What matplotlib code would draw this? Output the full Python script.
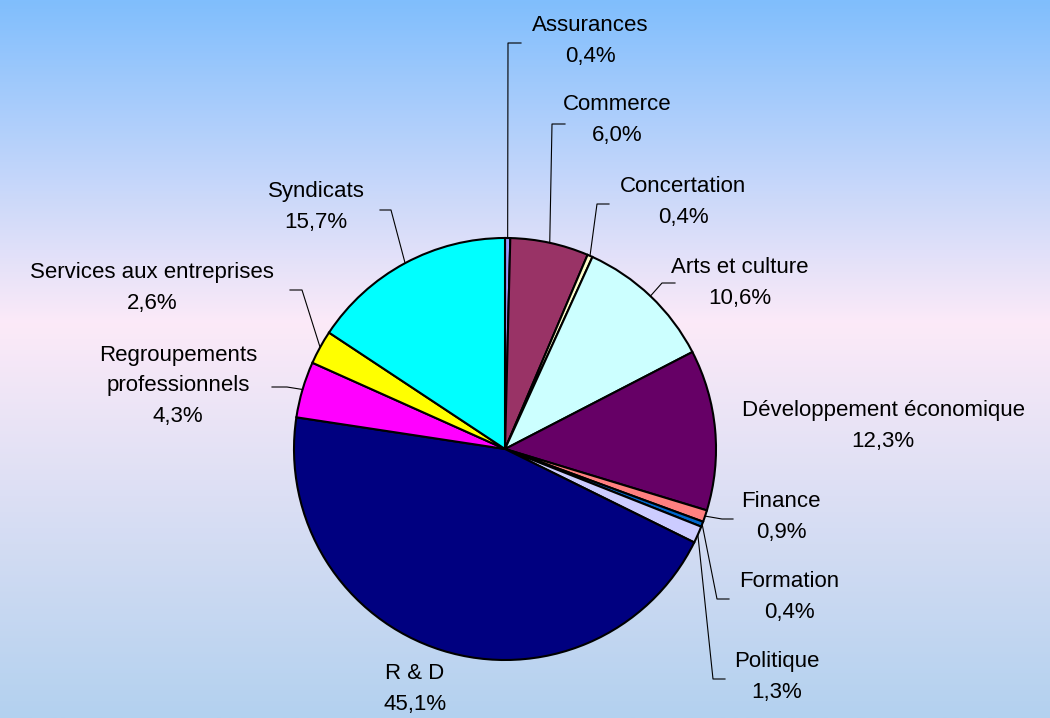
import numpy as np
import matplotlib.pyplot as plt
from matplotlib.colors import LinearSegmentedColormap

# Data #
labels = ["Assurances", "Commerce", "Concertation", "Arts et culture",
          "Développement économique", "Finance", "Formation", "Politique",
          "R & D", "Regroupements\nprofessionnels", "Services aux entreprises",
          "Syndicats"]
values = [0.4, 6.0, 0.4, 10.6, 12.3, 0.9, 0.4, 1.3, 45.1, 4.3, 2.6, 15.7]
colors = ["#9999FF", "#993366", "#FFFFCC", "#CCFFFF", "#660066", "#FF8080",
          "#0066CC", "#CCCCFF", "#000080", "#FF00FF", "#FFFF00", "#00FFFF"]

# Label layout in pixels (text centre, corner of leader line, end of leader) #
label_pos = [(590, 41), (617, 120), (683, 202), (740, 283), (883, 426),
             (781, 517), (789, 597), (777, 677), (415, 689), (178, 386),
             (152, 288), (316, 207)]
corner_pos = [(508, 43), (552, 124), (597, 204), (662, 283), None,
              (722, 519), (717, 599), (713, 679), None, (287, 387),
              (302, 290), (391, 210)]
end_x = [521, 565, 609, 675, 0, 733, 729, 725, 0, 272, 290, 380]

W, H = 1050, 718
cx, cy, r = 505, H - 449, 211

fig = plt.figure(figsize=(W / 100, H / 100), dpi=100)
ax = fig.add_axes([0, 0, 1, 1])

# Background gradient #
cmap = LinearSegmentedColormap.from_list(
    "bg", [(0.0, "#80BEFD"), (0.45, "#FCEAF8"), (1.0, "#B3D1EF")])
grad = np.linspace(0, 1, 256).reshape(-1, 1)
ax.imshow(grad, cmap=cmap, extent=[0, W, 0, H], aspect="auto", zorder=0,
          origin="upper")

wedges, _ = ax.pie(values, colors=colors, startangle=90, counterclock=False,
                   center=(cx, cy), radius=r, frame=True,
                   wedgeprops=dict(edgecolor="black", linewidth=1.5))
for w in wedges:
    w.set_zorder(2)
ax.set_xlim(0, W)
ax.set_ylim(0, H)
ax.set_aspect("equal")
ax.axis("off")

for w, lab, v, (lx, ly), cp, ex2 in zip(wedges, labels, values, label_pos,
                                        corner_pos, end_x):
    txt = lab + "\n" + ("%.1f%%" % v).replace(".", ",")
    ax.text(lx, H - ly, txt, ha="center", va="center", fontsize=16,
            linespacing=1.62, family=['Liberation Sans', 'DejaVu Sans'],
            zorder=4)
    if cp is None:
        continue
    ang = np.deg2rad((w.theta1 + w.theta2) / 2)
    sx, sy = cx + r * np.cos(ang), cy + r * np.sin(ang)
    ex, ey = cp[0], H - cp[1]
    ax.plot([sx, ex, ex2], [sy, ey, ey], color="black", lw=0.8,
            zorder=3)

fig.savefig("out.png", dpi=100)
